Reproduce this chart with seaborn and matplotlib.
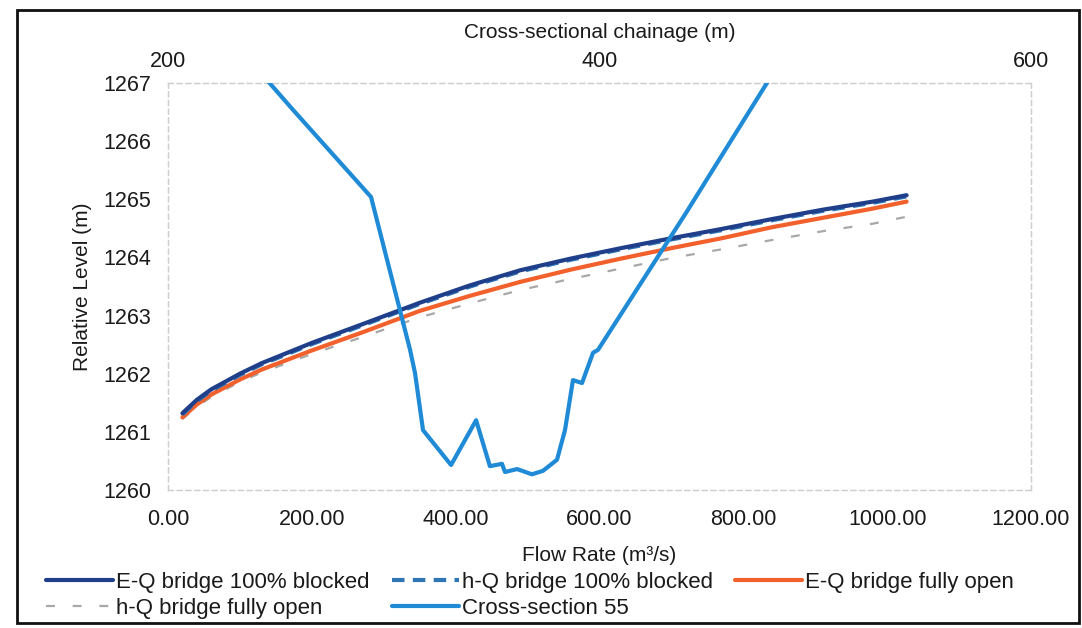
import matplotlib
matplotlib.use("Agg")
import matplotlib.pyplot as plt
from matplotlib.patches import Rectangle
import seaborn as sns

# ---- data ----
flow_rate = [20, 40, 60, 100, 130, 200, 270, 350, 420, 490, 560, 630, 700, 770, 840, 910, 980, 1027]
eq_blocked = [1261.32, 1261.55, 1261.73, 1262.00, 1262.18, 1262.53, 1262.85, 1263.22, 1263.52, 1263.78,
              1263.98, 1264.16, 1264.33, 1264.49, 1264.66, 1264.82, 1264.96, 1265.07]
hq_blocked = [1261.30, 1261.53, 1261.71, 1261.98, 1262.16, 1262.51, 1262.83, 1263.20, 1263.50, 1263.76,
              1263.96, 1264.14, 1264.31, 1264.47, 1264.64, 1264.80, 1264.94, 1265.05]
eq_open = [1261.25, 1261.47, 1261.64, 1261.90, 1262.07, 1262.40, 1262.71, 1263.08, 1263.34, 1263.58,
           1263.79, 1263.98, 1264.16, 1264.33, 1264.52, 1264.68, 1264.84, 1264.96]
hq_open = [1261.22, 1261.43, 1261.60, 1261.86, 1262.02, 1262.34, 1262.63, 1262.97, 1263.21, 1263.44,
           1263.63, 1263.81, 1263.99, 1264.14, 1264.30, 1264.45, 1264.58, 1264.70]

chainage = [240.0, 257.9, 294.1, 312.2, 314.5, 318.2, 331.2, 342.8, 349.2, 354.8, 356.2, 361.8, 368.7,
            373.8, 380.3, 384.0, 387.7, 391.9, 397.0, 399.3, 440.0, 481.3]
bed_level = [1267.3, 1266.54, 1265.04, 1262.41, 1262.01, 1261.03, 1260.43, 1261.20, 1260.41, 1260.45,
             1260.31, 1260.36, 1260.27, 1260.33, 1260.52, 1261.03, 1261.89, 1261.84, 1262.36, 1262.41,
             1264.76, 1267.22]

flow_ticks = [0, 200, 400, 600, 800, 1000, 1200]
level_ticks = [1260, 1261, 1262, 1263, 1264, 1265, 1266, 1267]
chain_ticks = [200, 400, 600]

labels = ["E-Q bridge 100% blocked", "h-Q bridge 100% blocked", "E-Q bridge fully open",
          "h-Q bridge fully open", "Cross-section 55"]

# ---- style ----
sns.set_theme(style="white")
plt.rcParams["font.family"] = ["Liberation Sans", "DejaVu Sans"]
TXT = "#1a1a1a"

fig = plt.figure(figsize=(10.82, 6.28), dpi=100)
ax = fig.add_axes([168 / 1082, 1 - 490 / 628, (1031 - 168) / 1082, (490 - 83) / 628])

sns.lineplot(x=flow_rate, y=hq_open, ax=ax, color="#A8A8A8", lw=1.6,
             linestyle=(0, (4, 8)), label=labels[3], zorder=2)
sns.lineplot(x=flow_rate, y=eq_open, ax=ax, color="#F2602B", lw=3.0,
             label=labels[2], zorder=3)
sns.lineplot(x=flow_rate, y=hq_blocked, ax=ax, color="#2E75B6", lw=3.0,
             linestyle=(0, (3, 2)), label=labels[1], zorder=4)
sns.lineplot(x=flow_rate, y=eq_blocked, ax=ax, color="#1F3F8A", lw=3.0,
             label=labels[0], zorder=5)

ax.set_xlim(0, 1200)
ax.set_ylim(1260, 1267)
ax.set_xticks(flow_ticks)
ax.set_xticklabels([f"{v:.2f}" for v in flow_ticks])
ax.set_yticks(level_ticks)
ax.set_yticklabels([str(v) for v in level_ticks])
ax.tick_params(axis="x", length=0, pad=14, labelsize=15.5, labelcolor=TXT)
ax.tick_params(axis="y", length=0, pad=12, labelsize=15.5, labelcolor=TXT)
ax.set_xlabel("Flow Rate (m³/s)", fontsize=15, color=TXT, labelpad=11)
ax.set_ylabel("Relative Level (m)", fontsize=15, color=TXT, labelpad=8)

ax2 = ax.twiny()
sns.lineplot(x=chainage, y=bed_level, ax=ax2, color="#1F8AD6", lw=3.0,
             sort=False, estimator=None, label=labels[4], zorder=6)
ax2.set_xlim(200, 600)
ax2.set_ylim(1260, 1267)
ax2.set_xticks(chain_ticks)
ax2.set_xticklabels([str(v) for v in chain_ticks])
ax2.tick_params(axis="x", length=0, pad=8, labelsize=15.5, labelcolor=TXT)
ax2.set_xlabel("Cross-sectional chainage (m)", fontsize=15, color=TXT, labelpad=9)
ax2.set_ylabel("")

for a in (ax, ax2):
    for sp in a.spines.values():
        sp.set_color("#CFCFCF")
        sp.set_linewidth(0.9)
        sp.set_linestyle((0, (4, 3)))

# legend
h1, l1 = ax.get_legend_handles_labels()
h2, l2 = ax2.get_legend_handles_labels()
for a in (ax, ax2):
    if a.get_legend() is not None:
        a.get_legend().remove()
hmap = dict(zip(l1 + l2, h1 + h2))
order = [labels[0], labels[3], labels[1], labels[4], labels[2]]
fig.legend([hmap[k] for k in order], order, loc="center", bbox_to_anchor=(0.49, 0.052),
           ncol=3, frameon=False, fontsize=16, handlelength=3.0, handletextpad=0.15,
           columnspacing=1.0, labelspacing=0.2, borderpad=0.1, labelcolor=TXT)

# outer frame of the chart
fig.patches.append(Rectangle((17 / 1082, 1 - 623 / 628), (1079 - 17) / 1082, (623 - 10) / 628,
                             transform=fig.transFigure, fill=False, lw=2, edgecolor="#111111"))

fig.savefig("out.png", dpi=100)
